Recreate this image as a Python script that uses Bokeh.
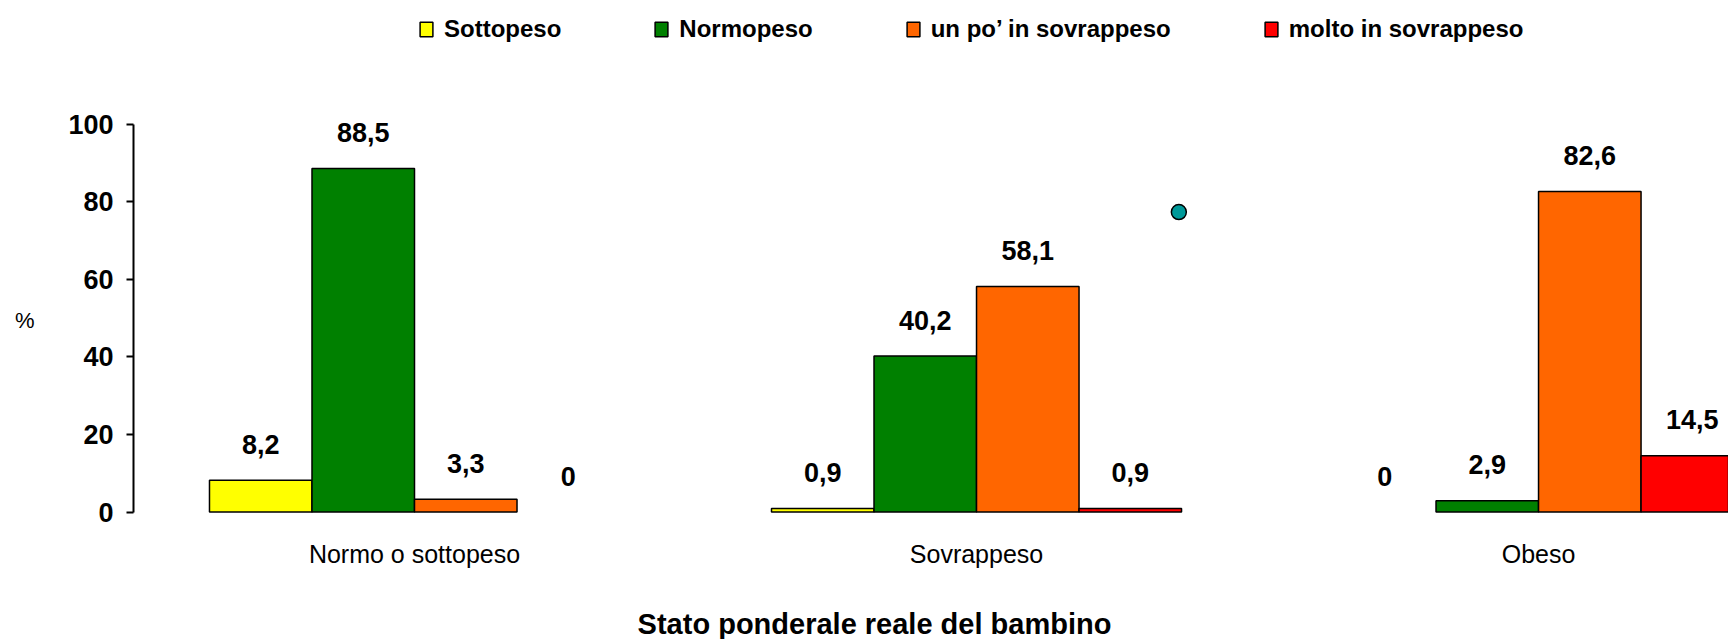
from bokeh.plotting import figure
from bokeh.models import Range1d, FixedTicker, Legend, LegendItem, ColumnDataSource, Label
from bokeh.embed import file_html
from bokeh.resources import INLINE
from bokeh.core.properties import value

# ---- data ----
groups = ["Normo o sottopeso", "Sovrappeso", "Obeso"]
series = ["Sottopeso", "Normopeso", "un po\u2019 in sovrappeso", "molto in sovrappeso"]
sottopeso = [8.2, 0.9, 0.0]
normopeso = [88.5, 40.2, 2.9]
poco_sovrappeso = [3.3, 58.1, 82.6]
molto_sovrappeso = [0.0, 0.9, 14.5]
colors = ["#FFFF00", "#008000", "#FF6600", "#FF0000"]
y_ticks = [0, 20, 40, 60, 80, 100]
x_title = "Stato ponderale reale del bambino"
y_title = "%"
stray_x = [1.86]
stray_y = [77.3]

all_series = [sottopeso, normopeso, poco_sovrappeso, molto_sovrappeso]

BAR_W = 0.1824
offsets = [-1.5 * BAR_W, -0.5 * BAR_W, 0.5 * BAR_W, 1.5 * BAR_W]

SANS = "Liberation Sans"

p = figure(width=1728, height=639,
           x_range=Range1d(0, 2.838), y_range=Range1d(-32.86, 131.83),
           output_backend="svg", toolbar_location=None,
           min_border_left=133, min_border_right=0,
           min_border_top=0, min_border_bottom=0)
p.grid.visible = False
p.outline_line_color = None
p.background_fill_color = "white"

renderers = []
lab_x, lab_y, lab_t = [], [], []
for k, vals in enumerate(all_series):
    xs, tops = [], []
    for i, v in enumerate(vals):
        xc = i + 0.5 + offsets[k]
        if v > 0:
            xs.append(xc)
            tops.append(v)
        lab_x.append(xc)
        lab_y.append(v)
        lab_t.append("0" if v == 0 else f"{v:.1f}".replace(".", ","))
    src = ColumnDataSource(dict(x=xs, top=tops))
    r = p.vbar(x="x", top="top", bottom=0, width=BAR_W, source=src,
               fill_color=colors[k], line_color="black", line_width=1.5)
    renderers.append(r)

lsrc = ColumnDataSource(dict(x=lab_x, y=lab_y, t=lab_t))
p.text(x="x", y="y", text="t", source=lsrc, y_offset=-36,
       text_align="center", text_baseline="middle",
       text_font=value(SANS), text_font_style="bold",
       text_font_size="27px", text_color="black")

p.scatter(stray_x, stray_y, size=15, fill_color="#009999",
          line_color="black", line_width=1.5)

# y axis
ya = p.yaxis[0]
ya.ticker = FixedTicker(ticks=y_ticks)
ya.bounds = (0, 100)
ya.axis_line_width = 2
ya.axis_line_color = "black"
ya.major_tick_line_width = 2
ya.major_tick_out = 7
ya.major_tick_in = 0
ya.minor_tick_line_color = None
ya.major_label_standoff = 13
ya.major_label_text_font = SANS
ya.major_label_text_font_style = "bold"
ya.major_label_text_font_size = "27px"
ya.major_label_text_color = "black"
ya.axis_label = y_title
ya.axis_label_orientation = "horizontal"
ya.axis_label_standoff = 31
ya.axis_label_text_font = SANS
ya.axis_label_text_font_style = "normal"
ya.axis_label_text_font_size = "22px"
ya.axis_label_text_color = "black"

# x axis (drawn at y = 0)
xa = p.xaxis[0]
xa.fixed_location = 0
xa.ticker = FixedTicker(ticks=[i + 0.5 for i in range(len(groups))])
xa.major_label_overrides = {i + 0.5: g for i, g in enumerate(groups)}
xa.axis_line_color = None
xa.major_tick_line_color = None
xa.minor_tick_line_color = None
xa.major_tick_out = 0
xa.major_tick_in = 0
xa.major_label_standoff = 28
xa.major_label_text_font = SANS
xa.major_label_text_font_style = "normal"
xa.major_label_text_font_size = "25px"
xa.major_label_text_color = "black"

p.add_layout(Label(x=741, y=16, x_units="screen", y_units="screen",
                   text=x_title, text_align="center", text_baseline="alphabetic",
                   text_font=SANS, text_font_style="bold",
                   text_font_size="29px", text_color="black"))

legend = Legend(items=[LegendItem(label=series[k], renderers=[renderers[k]])
                       for k in range(4)],
                orientation="horizontal", location=(285, 596),
                spacing=92, padding=0, margin=0,
                glyph_width=16, glyph_height=18, label_standoff=10,
                label_text_font=SANS, label_text_font_style="bold",
                label_text_font_size="24px", label_text_color="black",
                border_line_alpha=0, background_fill_alpha=0)
p.add_layout(legend, "center")

open("out.html", "w").write(file_html(p, INLINE))
